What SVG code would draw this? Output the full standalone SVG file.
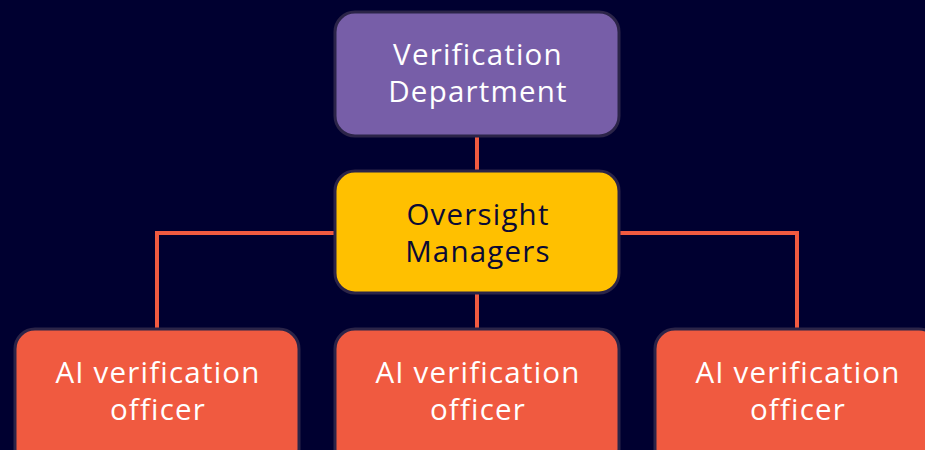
<svg xmlns="http://www.w3.org/2000/svg" width="925" height="450" viewBox="0 0 925 450">
<style>
.box{stroke:#2b2448;stroke-width:3}
.t{font-family:"Open Sans","Liberation Sans",sans-serif;font-size:29.5px;text-anchor:middle;letter-spacing:1.2px}
.w{fill:#ffffff}
.d{fill:#0a0a35}
.c{stroke:#f05a40;stroke-width:4;fill:none}
</style>
<rect width="925" height="450" fill="#000030"/>
<g id="connectors">
<line class="c" x1="477" y1="136" x2="477" y2="171"/>
<polyline class="c" points="157,329 157,233 797,233 797,329"/>
<line class="c" x1="477" y1="293" x2="477" y2="329"/>
</g>
<g id="verification-department">
<rect class="box" x="335" y="12" width="284" height="124" rx="20" fill="#775ea8"/>
<text class="t w" x="478" y="65">Verification</text>
<text class="t w" x="478" y="102">Department</text>
</g>
<g id="oversight-managers">
<rect class="box" x="335" y="171" width="284" height="122" rx="20" fill="#ffc000"/>
<text class="t d" x="478" y="225">Oversight</text>
<text class="t d" x="478" y="262">Managers</text>
</g>
<g id="officer-1">
<rect class="box" x="15" y="329" width="284" height="140" rx="20" fill="#f05a40"/>
<text class="t w" x="158" y="383">AI verification</text>
<text class="t w" x="158" y="420">officer</text>
</g>
<g id="officer-2">
<rect class="box" x="335" y="329" width="284" height="140" rx="20" fill="#f05a40"/>
<text class="t w" x="478" y="383">AI verification</text>
<text class="t w" x="478" y="420">officer</text>
</g>
<g id="officer-3">
<rect class="box" x="655" y="329" width="284" height="140" rx="20" fill="#f05a40"/>
<text class="t w" x="798" y="383">AI verification</text>
<text class="t w" x="798" y="420">officer</text>
</g>
</svg>
